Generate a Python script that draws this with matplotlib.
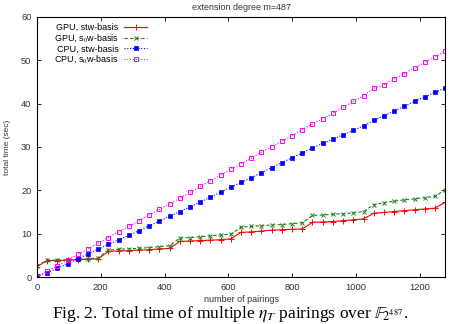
import matplotlib.pyplot as plt
import numpy as np

plt.rcParams['font.family'] = ['Liberation Sans', 'DejaVu Sans']
plt.rcParams['mathtext.fontset'] = 'stix'

# number of pairings, 0..1280 in steps of 32
pairings = list(range(0, 1281, 32))

gpu_stw = [2.4,
           3.8, 3.8, 3.9, 4.0, 4.1, 4.2,
           5.9, 6.0, 6.1, 6.2, 6.3, 6.5, 6.6,
           8.2, 8.3, 8.4, 8.5, 8.6, 8.8,
           10.3, 10.4, 10.6, 10.8, 10.9, 11.0, 11.1,
           12.6, 12.7, 12.8, 13.0, 13.2, 13.4,
           14.7, 14.9, 15.1, 15.3, 15.5, 15.7, 15.9,
           17.2]
gpu_s0w = [2.6,
           3.9, 3.9, 4.0, 4.1, 4.2, 4.4,
           6.2, 6.4, 6.5, 6.6, 6.8, 7.0, 7.2,
           9.0, 9.1, 9.3, 9.5, 9.7, 9.9,
           11.5, 11.7, 11.8, 12.0, 12.1, 12.3, 12.5,
           14.2, 14.3, 14.5, 14.6, 14.8, 15.1,
           16.7, 17.1, 17.5, 17.8, 18.0, 18.3, 18.6,
           20.1]
cpu_stw = [0.2, 1.0, 2.0, 3.1, 4.2, 5.3, 6.4, 7.5, 8.6, 9.6,
           10.7, 11.8, 12.9, 14.0, 15.1, 16.2, 17.3, 18.4, 19.6, 20.7,
           21.8, 22.9, 24.1, 25.2, 26.4, 27.5, 28.6, 29.8, 30.8, 31.8,
           32.8, 33.8, 34.9, 36.1, 37.2, 38.3, 39.4, 40.5, 41.5, 42.6,
           43.6]
cpu_s0w = [0.1, 1.3, 2.6, 3.9, 5.2, 6.5, 7.8, 9.1, 10.4, 11.7,
           13.0, 14.3, 15.6, 16.9, 18.2, 19.5, 20.9, 22.2, 23.5, 24.8,
           26.1, 27.4, 28.8, 30.1, 31.3, 32.6, 34.0, 35.3, 36.5, 37.8,
           39.1, 40.5, 41.8, 43.5, 44.3, 45.7, 46.9, 48.2, 49.5, 50.8,
           52.1]

fig = plt.figure(figsize=(4.51, 3.24), dpi=100)
ax = fig.add_axes([0.082, 0.145, 0.905, 0.803])

ax.plot(pairings, gpu_stw, color='#ff0000', lw=0.8, ls='-', marker='+',
        ms=4, mew=0.7, label='GPU, stw-basis')
ax.plot(pairings, gpu_s0w, color='#1f7f1f', lw=0.8, ls=(0, (3, 2)), marker='x',
        ms=3.5, mew=0.7, label='GPU, s$_0$w-basis')
ax.plot(pairings, cpu_stw, color='#0000ff', lw=0.8, ls=(0, (1, 1.5)), marker='s',
        ms=2.5, mew=0.5, label='CPU, stw-basis')
ax.plot(pairings, cpu_s0w, color='#ff00ff', lw=0.8, ls=(0, (1, 1.5)), marker='s',
        ms=3.3, mew=0.7, mfc='none', label='CPU, s$_0$w-basis')

ax.set_xlim(0, 1280)
ax.set_ylim(0, 60)
ax.set_xticks(np.arange(0, 1201, 200))
ax.set_yticks(np.arange(0, 61, 10))
ax.tick_params(direction='in', top=True, right=True, labelsize=6.7, length=3,
               width=0.6, colors='black', labelcolor='#333333', pad=4)
for s in ax.spines.values():
    s.set_linewidth(0.8)

ax.set_title('extension degree m=487', fontsize=6.4, color='#333333', pad=5)
ax.set_xlabel('number of pairings', fontsize=6.5, color='#333333', labelpad=2.5)
ax.set_ylabel('total time (sec)', fontsize=6, color='#333333', labelpad=7)

leg = ax.legend(loc='upper left', bbox_to_anchor=(0.025, 1.0), markerfirst=False,
                frameon=False, fontsize=6.5, handlelength=2.6, handletextpad=0.6,
                labelspacing=0.05, borderaxespad=0.3)

fig.text(0.511, 0.03, r'Fig. 2. Total time of multiple $\eta_T$ pairings over $\mathbb{F}_{2^{487}}$.',
         ha='center', va='center', fontsize=12.5, family='Liberation Serif')

fig.savefig('out.png', dpi=100)
